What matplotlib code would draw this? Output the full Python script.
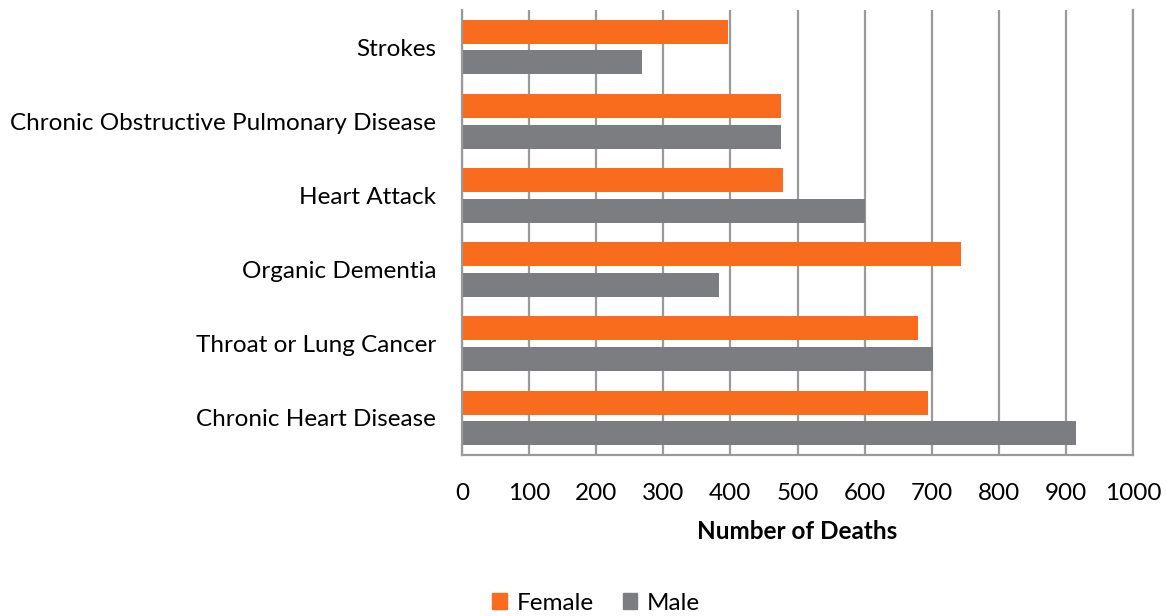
import numpy as np
import matplotlib.pyplot as plt
from matplotlib.patches import Patch

# data, top to bottom as shown in the chart
causes = [
    "Strokes",
    "Chronic Obstructive Pulmonary Disease",
    "Heart Attack",
    "Organic Dementia",
    "Throat or Lung Cancer",
    "Chronic Heart Disease",
]
female = [396, 475, 478, 744, 680, 695]
male = [269, 475, 600, 383, 702, 915]

ticks = [0, 100, 200, 300, 400, 500, 600, 700, 800, 900, 1000]

orange = "#F96B1D"
gray = "#7C7D80"
grid_c = "#9A9A9A"
fs = 17.5

plt.rcParams["font.family"] = ["Lato", "DejaVu Sans"]

fig = plt.figure(figsize=(11.67, 6.16), dpi=100)
ax = fig.add_axes([462 / 1167, 1 - 455 / 616, (1133 - 462) / 1167, (455 - 10) / 616])

# bottom category at y=0
y = np.arange(len(causes))[::-1]
off = 0.207
h = 0.324
ax.barh(y + off, female, height=h, color=orange, label="Female", zorder=2)
ax.barh(y - off, male, height=h, color=gray, label="Male", zorder=2)

ax.set_xlim(0, 1000)
ax.set_ylim(-0.5, len(causes) - 0.5)
ax.set_xticks(ticks)
ax.set_xticklabels([str(t) for t in ticks], fontsize=fs)
ax.set_yticks(y)
ax.set_yticklabels(causes, fontsize=fs)
ax.tick_params(axis="both", length=0)
ax.tick_params(axis="x", pad=20)
ax.tick_params(axis="y", pad=18.5)

ax.xaxis.grid(True, color=grid_c, linewidth=1.6)
ax.set_axisbelow(True)
for s in ["left", "bottom", "right"]:
    ax.spines[s].set_color(grid_c)
    ax.spines[s].set_linewidth(1.6)
ax.spines["top"].set_visible(False)

ax.set_xlabel("Number of Deaths", fontsize=fs, fontweight="bold", labelpad=12)

handles = [Patch(color=orange, label="Female"), Patch(color=gray, label="Male")]
fig.legend(handles=handles, loc="center", bbox_to_anchor=(596 / 1167, 1 - 603 / 616),
           ncol=2, frameon=False, fontsize=fs, handlelength=0.6, handleheight=0.6,
           handletextpad=0.4, columnspacing=1.2, borderpad=0)

fig.savefig("out.png", dpi=100)
